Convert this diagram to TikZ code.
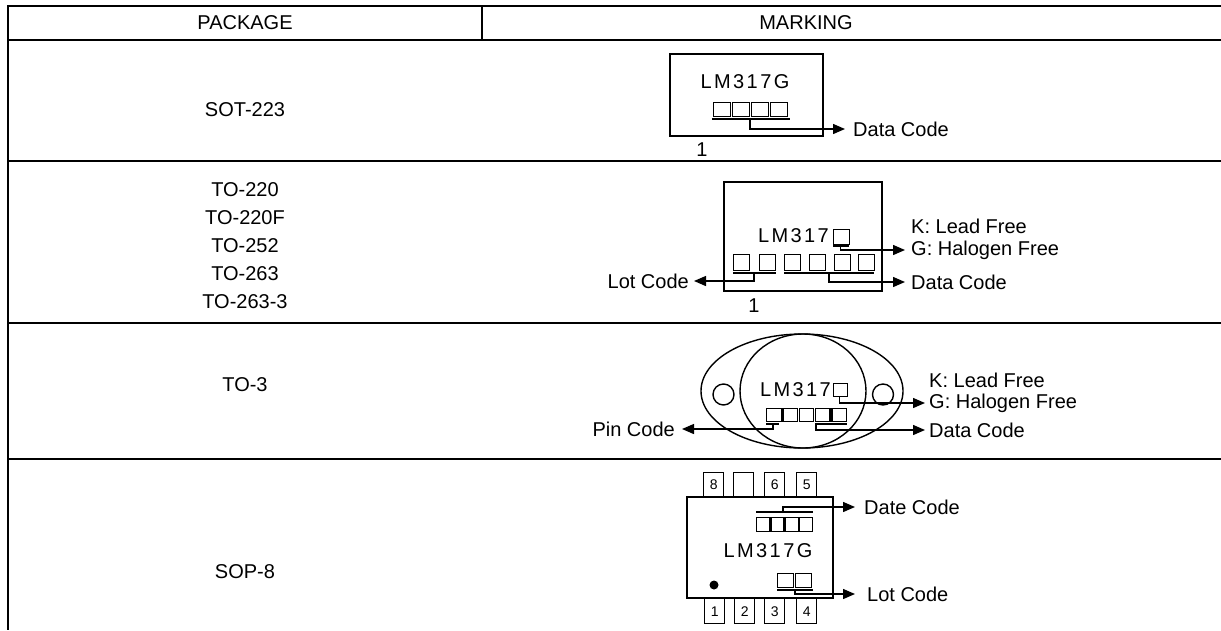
\documentclass[tikz,border=0pt]{standalone}
\usepackage{fontspec}
\setmainfont{Liberation Sans}
\newfontfamily\lmfont[LetterSpace=12]{Liberation Sans}
\usetikzlibrary{arrows.meta,shapes.geometric}
\tikzset{
  rule/.style={line width=2.2pt},
  thinl/.style={line width=1.4pt},
  lbl/.style={font=\fontsize{20}{24}\selectfont, inner sep=0pt},
  mk/.style={font=\lmfont\fontsize{20}{24}\selectfont, inner sep=0pt},
  pinno/.style={font=\fontsize{14}{16}\selectfont, inner sep=0pt},
  sq/.style={draw, line width=1.3pt, inner sep=0pt},
  conn/.style={line width=1.4pt, -{Triangle[length=12pt,width=10pt]}},
  plainl/.style={line width=1.4pt},
}
\begin{document}
\begin{tikzpicture}[x=1pt,y=-1pt]
\useasboundingbox (0,0) rectangle (1221,630);
% table
\coordinate (tl) at (8,5);
\coordinate (bl) at (8,630);
\draw[rule] (7,6) -- (1221,6);
\draw[rule] (8,40) -- (1221,40);
\draw[rule] (8,161) -- (1221,161);
\draw[rule] (8,323) -- (1221,323);
\draw[rule] (8,459) -- (1221,459);
\draw[rule] (tl) -- (bl);
\draw[thinl] (482,6) -- (482,40);
\node[lbl] (hp) at (245,23) {PACKAGE};
\node[lbl] (hm) at (806,23) {MARKING};
\node[lbl] (p1) at (245,110) {SOT-223};
\node[lbl] (p2a) at (245,190) {TO-220};
\node[lbl] (p2b) at (245,218) {TO-220F};
\node[lbl] (p2c) at (245,246) {TO-252};
\node[lbl] (p2d) at (245,274) {TO-263};
\node[lbl] (p2e) at (245,302) {TO-263-3};
\node[lbl] (p3) at (245,385) {TO-3};
\node[lbl] (p4) at (245,572) {SOP-8};

% ---------- SOT-223
\draw[thinl] (670,54) rectangle (823,136);
\node[mk] (sotlm) at (745,82) {LM317G};
\foreach \i in {0,...,3} { \node[sq, minimum width=16.5pt, minimum height=14pt, anchor=north west] (ss\i) at (713+19*\i,102) {}; }
\draw[plainl] (712,119) -- (790,119);
\coordinate (sot1) at (750,119);
\node[lbl, anchor=west] (sotdc) at (853,129) {Data Code};
\draw[conn] (sot1) |- ([xshift=-8pt]sotdc.west);
\node[lbl] (sotone) at (702,150) {1};

% ---------- TO-220
\draw[thinl] (724,182) rectangle (882,291);
\node[mk, anchor=east] (tolm) at (829,236) {LM317};
\node[sq, minimum width=16pt, minimum height=15pt, anchor=north west] (tokg) at (833,229) {};
\foreach \i/\x in {0/733,1/759,2/784,3/809,4/834,5/858} { \node[sq, minimum width=16pt, minimum height=16pt, anchor=north west] (ts\i) at (\x,254) {}; }
\draw[plainl] (733,273) -- (776,273);
\draw[plainl] (784,273) -- (874,273);
\node[lbl, anchor=west] (tok) at (911,226) {K: Lead Free};
\node[lbl, anchor=west] (tog) at (911,250) {G: Halogen Free};
\node[lbl, anchor=west] (todc) at (911,282) {Data Code};
\node[lbl, anchor=east] (tolc) at (689,281) {Lot Code};
\draw[plainl] (833,246) -- (849,246);
\draw[conn] ([xshift=-1pt]tokg.south |- 0,246) |- ([xshift=-6pt]tog.west);
\coordinate (tol1) at (754,273);
\coordinate (tod1) at (829,273);
\draw[conn] (tol1) |- ([xshift=5pt]tolc.east);
\draw[conn] (tod1) |- ([xshift=-6pt]todc.west);
\node[lbl] (toone) at (754,306) {1};

% ---------- TO-3
\node[draw, thinl, ellipse, minimum width=202pt, minimum height=114pt, inner sep=0pt] (t3o) at (802,391) {};
\node[draw, thinl, ellipse, minimum width=126pt, minimum height=114pt, inner sep=0pt] (t3i) at (803,391) {};
\node[draw, thinl, circle, minimum size=21pt, inner sep=0pt] (t3l) at (723.5,394.5) {};
\node[draw, thinl, circle, minimum size=21pt, inner sep=0pt] (t3r) at (883,394.5) {};
\node[mk, anchor=east] (t3lm) at (831,390) {LM317};
\node[sq, minimum width=14pt, minimum height=13pt, anchor=north west] (t3kg) at (833,383) {};
\foreach \i in {0,...,4} { \node[sq, minimum width=14.5pt, minimum height=13pt, anchor=north west] (t3s\i) at (766+16.3*\i,408) {}; }
\draw[plainl] (766,424) -- (779,424);
\draw[plainl] (815,424) -- (847,424);
\node[lbl, anchor=west] (t3k) at (929,380) {K: Lead Free};
\node[lbl, anchor=west] (t3g) at (929,403) {G: Halogen Free};
\node[lbl, anchor=west] (t3dc) at (929,430) {Data Code};
\node[lbl, anchor=east] (t3pc) at (675,429) {Pin Code};
\draw[conn] ([xshift=-1pt]t3kg.south) |- ([xshift=-4pt]t3g.west);
\coordinate (t3p1) at (773,424);
\coordinate (t3d1) at (816,424);
\draw[conn] (t3p1) |- ([xshift=7pt]t3pc.east);
\draw[conn] (t3d1) |- ([xshift=-4pt]t3dc.west);

% ---------- SOP-8
\draw[thinl] (687,497) rectangle (833,598);
\foreach \n/\x in {8/703,/733,6/764,5/796} { \node[draw, thinl, pinno, minimum width=20pt, minimum height=24pt, anchor=south west] at (\x,497) {\n}; }
\foreach \n/\x in {1/704,2/734,3/764,4/796} { \node[draw, thinl, pinno, minimum width=20pt, minimum height=25pt, anchor=north west] at (\x,598) {\n}; }
\draw[plainl] (756,512) -- (813,512);
\foreach \i in {0,...,3} { \node[sq, minimum width=13pt, minimum height=14pt, anchor=north west] (sd\i) at (756+14.3*\i,517) {}; }
\node[mk] (soplm) at (768,551) {LM317G};
\fill (714,585) circle (4.5pt);
\foreach \i in {0,1} { \node[sq, minimum width=16pt, minimum height=14pt, anchor=north west] (sl\i) at (777+18*\i,573) {}; }
\draw[plainl] (777,590) -- (813,590);
\node[lbl, anchor=west] (sopdc) at (864,507) {Date Code};
\node[lbl, anchor=west] (soplc) at (867,594) {Lot Code};
\coordinate (sopd1) at (783,512);
\coordinate (sopl1) at (795,590);
\draw[conn] (sopd1) |- ([xshift=-9pt]sopdc.west);
\draw[conn] (sopl1) |- ([xshift=-12pt]soplc.west);
\end{tikzpicture}
\end{document}
